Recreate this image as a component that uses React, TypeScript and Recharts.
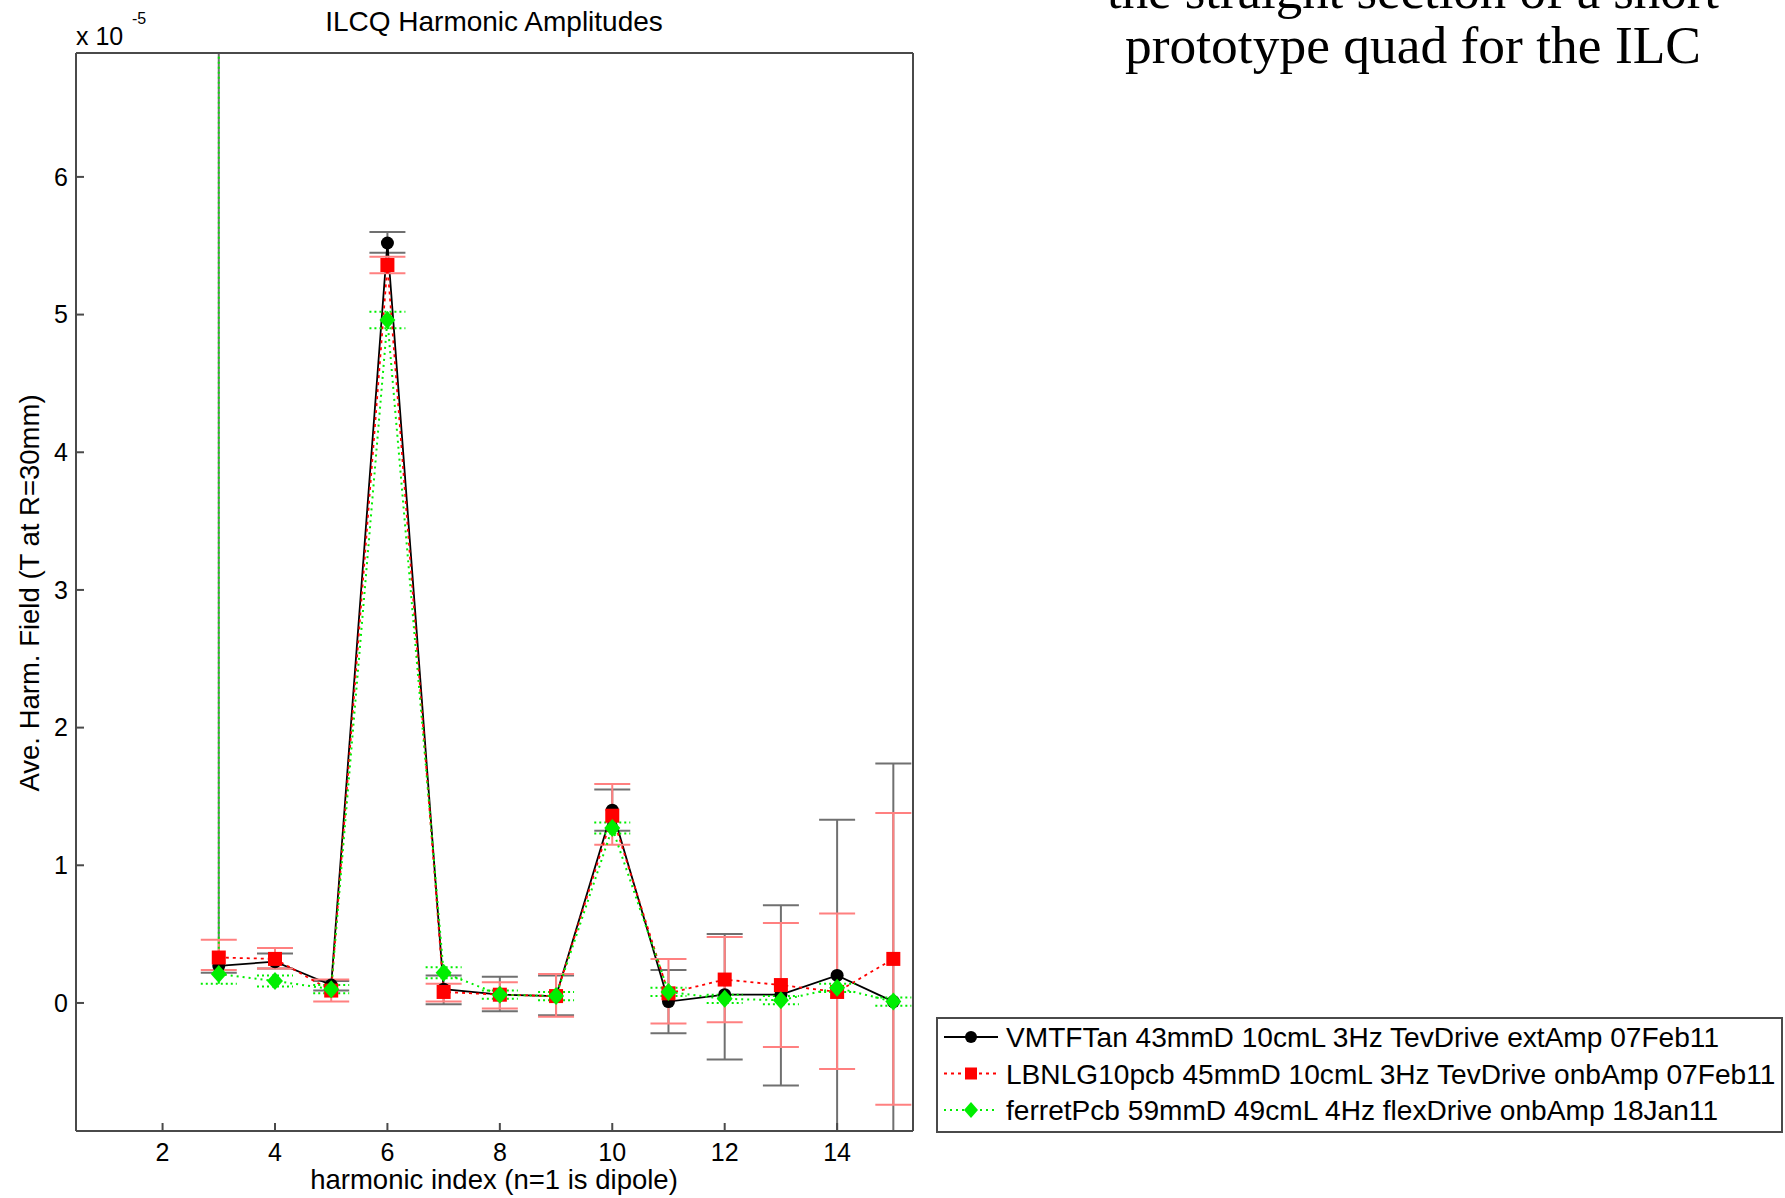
import React from 'react';
import { ComposedChart, Line, XAxis, YAxis, ErrorBar, Legend } from 'recharts';

// harmonic index n
const harmonics = [3, 4, 5, 6, 7, 8, 9, 10, 11, 12, 13, 14, 15];

// amplitudes in units of 1e-5 T (axis carries the x 10^-5 factor)
const vmtfMean = [0.27, 0.3, 0.13, 5.52, 0.1, 0.06, 0.05, 1.4, 0.01, 0.06, 0.06, 0.2, 0.01];
const vmtfHi = [12, 0.36, 0.16, 5.6, 0.2, 0.19, 0.2, 1.55, 0.24, 0.5, 0.71, 1.33, 1.74];
const vmtfLo = [0.22, 0.25, 0.09, 5.45, -0.01, -0.06, -0.09, 1.25, -0.22, -0.41, -0.6, -1.5, -1.5];

const lbnlMean = [0.33, 0.32, 0.09, 5.36, 0.08, 0.06, 0.05, 1.36, 0.07, 0.17, 0.13, 0.08, 0.32];
const lbnlHi = [0.46, 0.4, 0.17, 5.42, 0.14, 0.15, 0.21, 1.59, 0.32, 0.48, 0.58, 0.65, 1.38];
const lbnlLo = [0.24, 0.25, 0.01, 5.3, 0.01, -0.04, -0.1, 1.15, -0.15, -0.14, -0.32, -0.48, -0.74];

const ferretMean = [0.21, 0.16, 0.1, 4.96, 0.22, 0.06, 0.05, 1.27, 0.08, 0.03, 0.02, 0.11, 0.01];
const ferretHi = [12, 0.2, 0.13, 5.02, 0.26, 0.09, 0.08, 1.31, 0.11, 0.06, 0.05, 0.14, 0.04];
const ferretLo = [0.14, 0.12, 0.07, 4.9, 0.18, 0.03, 0.02, 1.23, 0.05, 0.0, -0.01, 0.08, -0.02];

const seriesNames = [
  'VMTFTan 43mmD 10cmL 3Hz TevDrive extAmp 07Feb11',
  'LBNLG10pcb 45mmD 10cmL 3Hz TevDrive onbAmp 07Feb11',
  'ferretPcb 59mmD 49cmL 4Hz flexDrive onbAmp 18Jan11',
];

const xTicks = [2, 4, 6, 8, 10, 12, 14];
const yTicks = [0, 1, 2, 3, 4, 5, 6];

const rows = harmonics.map((n, i) => ({
  n,
  vmtf: vmtfMean[i],
  vmtfErr: [vmtfMean[i] - vmtfLo[i], vmtfHi[i] - vmtfMean[i]],
  lbnl: lbnlMean[i],
  lbnlErr: [lbnlMean[i] - lbnlLo[i], lbnlHi[i] - lbnlMean[i]],
  ferret: ferretMean[i],
  ferretErr: [ferretMean[i] - ferretLo[i], ferretHi[i] - ferretMean[i]],
}));

const FONT = '"Liberation Sans", Arial, sans-serif';
const AXIS = '#4a4a4a';

// plot box, used only to clip error bars that run past the axes
const PLOT = { x: 76, y: 53, w: 837, h: 1078 };

const CircleDot = (p: any) => <circle key={`c${p.index}`} cx={p.cx} cy={p.cy} r={6.5} fill="#000" />;
const SquareDot = (p: any) => (
  <rect key={`s${p.index}`} x={p.cx - 7} y={p.cy - 7} width={14} height={14} fill="#ff0000" />
);
const DiamondDot = (p: any) => (
  <path
    key={`d${p.index}`}
    d={`M${p.cx},${p.cy - 9}L${p.cx + 8},${p.cy}L${p.cx},${p.cy + 9}L${p.cx - 8},${p.cy}Z`}
    fill="#00ee00"
  />
);

const legendStyles = [
  { color: '#000', dash: undefined, marker: 'circle' },
  { color: '#ff0000', dash: '3 4', marker: 'square' },
  { color: '#00ee00', dash: '2 4', marker: 'diamond' },
];

const renderLegend = () => (
  <svg width={847} height={116} style={{ display: 'block' }}>
    <rect x={1} y={1} width={845} height={114} fill="#fff" stroke={AXIS} strokeWidth={2} />
    {seriesNames.map((name, i) => {
      const cy = 20 + i * 36.5;
      const s = legendStyles[i];
      return (
        <g key={name}>
          <line x1={8} x2={62} y1={cy} y2={cy} stroke={s.color} strokeWidth={2} strokeDasharray={s.dash} />
          {s.marker === 'circle' && <circle cx={35} cy={cy} r={6} fill={s.color} />}
          {s.marker === 'square' && <rect x={29} y={cy - 6} width={12} height={12} fill={s.color} />}
          {s.marker === 'diamond' && (
            <path d={`M35,${cy - 8}L42,${cy}L35,${cy + 8}L28,${cy}Z`} fill={s.color} />
          )}
          <text x={70} y={cy + 10} fontSize={28.1} fontFamily={FONT} fill="#000">
            {name}
          </text>
        </g>
      );
    })}
  </svg>
);

export default function App() {
  return (
    <div style={{ position: 'absolute', left: 0, top: 0, width: 1785, height: 1198, background: '#fff' }}>
      <style>{`.recharts-errorBars { clip-path: url(#plotClip); }`}</style>
      <ComposedChart
        width={1785}
        height={1198}
        data={rows}
        margin={{ top: 52, right: 871, bottom: 0, left: 0 }}
      >
        <XAxis
          xAxisId="b"
          dataKey="n"
          type="number"
          domain={[0.46, 15.35]}
          allowDataOverflow
          ticks={xTicks}
          height={67}
          stroke={AXIS}
          strokeWidth={2}
          tickSize={-8}
          tickMargin={20}
          tick={{ fontSize: 25, fill: '#000', fontFamily: FONT }}
        />
        <XAxis
          xAxisId="t"
          orientation="top"
          type="number"
          domain={[0.46, 15.35]}
          allowDataOverflow
          ticks={xTicks}
          height={1}
          stroke={AXIS}
          strokeWidth={2}
          tickSize={-8}
          tick={false}
        />
        <YAxis
          yAxisId="l"
          type="number"
          domain={[-0.93, 6.9]}
          allowDataOverflow
          ticks={yTicks}
          width={76}
          stroke={AXIS}
          strokeWidth={2}
          tickSize={-8}
          tickMargin={16}
          tick={{ fontSize: 25, fill: '#000', fontFamily: FONT }}
        />
        <YAxis
          yAxisId="r"
          orientation="right"
          type="number"
          domain={[-0.93, 6.9]}
          allowDataOverflow
          ticks={yTicks}
          width={1}
          stroke={AXIS}
          strokeWidth={2}
          tickSize={-8}
          tick={false}
        />
        <Line
          xAxisId="b"
          yAxisId="l"
          dataKey="vmtf"
          type="linear"
          stroke="#000"
          strokeWidth={1.8}
          dot={CircleDot}
          activeDot={false}
          isAnimationActive={false}
        >
          <ErrorBar dataKey="vmtfErr" width={18} stroke="#707070" strokeWidth={2} direction="y" />
        </Line>
        <Line
          xAxisId="b"
          yAxisId="l"
          dataKey="lbnl"
          type="linear"
          stroke="#ff0000"
          strokeWidth={1.8}
          strokeDasharray="3 4"
          dot={SquareDot}
          activeDot={false}
          isAnimationActive={false}
        >
          <ErrorBar dataKey="lbnlErr" width={18} stroke="#ff8080" strokeWidth={2} direction="y" />
        </Line>
        <Line
          xAxisId="b"
          yAxisId="l"
          dataKey="ferret"
          type="linear"
          stroke="#00ee00"
          strokeWidth={2}
          strokeDasharray="2 4"
          dot={DiamondDot}
          activeDot={false}
          isAnimationActive={false}
        >
          <ErrorBar
            dataKey="ferretErr"
            width={18}
            stroke="#00ee00"
            strokeWidth={2}
            strokeDasharray="2 3"
            direction="y"
          />
        </Line>
        <Legend
          layout="vertical"
          align="center"
          verticalAlign="middle"
          content={renderLegend}
          wrapperStyle={{ position: 'absolute', left: 936, top: 1017, width: 847, height: 116 }}
        />
      </ComposedChart>
      <svg
        width={1785}
        height={1198}
        style={{ position: 'absolute', left: 0, top: 0, pointerEvents: 'none' }}
      >
        <defs>
          <clipPath id="plotClip" clipPathUnits="userSpaceOnUse">
            <rect x={PLOT.x} y={PLOT.y} width={PLOT.w} height={PLOT.h} />
          </clipPath>
        </defs>
        <text x={494} y={31} textAnchor="middle" fontSize={28} fontFamily={FONT} fill="#000">
          ILCQ Harmonic Amplitudes
        </text>
        <text x={76} y={45} fontSize={25} fontFamily={FONT} fill="#000">
          x 10
        </text>
        <text x={132} y={24} fontSize={16} fontFamily={FONT} fill="#000">
          -5
        </text>
        <text
          transform="translate(39,593) rotate(-90)"
          textAnchor="middle"
          fontSize={27.5}
          fontFamily={FONT}
          fill="#000"
        >
          Ave. Harm. Field (T at R=30mm)
        </text>
        <text x={494} y={1189} textAnchor="middle" fontSize={27.5} fontFamily={FONT} fill="#000">
          harmonic index (n=1 is dipole)
        </text>
        <text
          x={1413}
          y={8}
          textAnchor="middle"
          fontSize={52}
          fontFamily='"Liberation Serif", serif'
          fill="#000"
          textLength={612}
          lengthAdjust="spacingAndGlyphs"
        >
          the straight section of a short
        </text>
        <text
          x={1413}
          y={63}
          textAnchor="middle"
          fontSize={52}
          fontFamily='"Liberation Serif", serif'
          fill="#000"
          textLength={576}
          lengthAdjust="spacingAndGlyphs"
        >
          prototype quad for the ILC
        </text>
      </svg>
    </div>
  );
}
